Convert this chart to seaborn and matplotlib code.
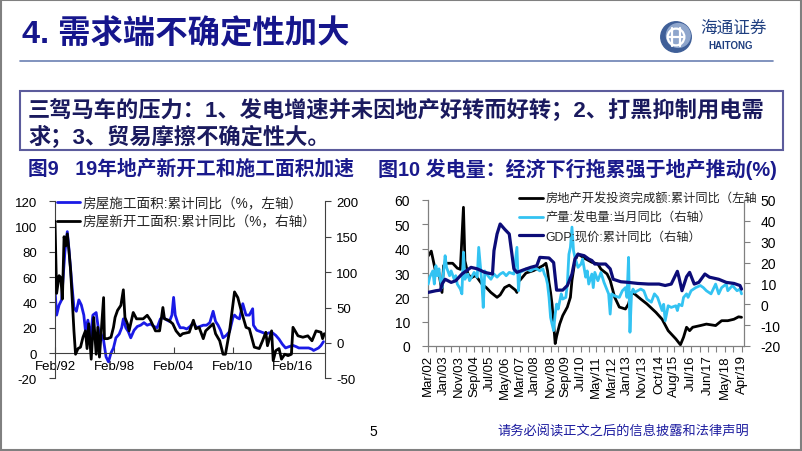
import numpy as np
import pandas as pd
import matplotlib
matplotlib.use('Agg')
import matplotlib.pyplot as plt
import matplotlib.dates as mdates
from matplotlib.patches import Rectangle, Circle
from matplotlib.lines import Line2D
import seaborn as sns

sns.set_theme(style='white')
plt.rcParams['font.family'] = ['Liberation Sans', 'Noto Sans CJK SC', 'DejaVu Sans']
plt.rcParams['axes.unicode_minus'] = False

# ---------------- data: chart 9 ----------------
build_dates = ["1992-02","1992-04","1992-07","1992-10","1993-02","1993-05","1993-07","1993-10",
               "1994-01","1994-04","1994-07","1994-10","1995-01","1995-03","1995-06","1995-09",
               "1995-12","1996-04","1996-07","1996-10","1997-01","1997-04","1997-07","1997-10",
               "1998-01","1998-04","1998-08","1998-11","1999-01","1999-04","1999-07","1999-10",
               "2000-02","2000-06","2000-10","2001-02","2001-06","2001-10","2002-02","2002-06",
               "2002-10","2003-02","2003-06","2003-09","2003-12","2004-02","2004-04","2004-07",
               "2004-10","2005-02","2005-06","2005-10","2006-02","2006-06","2006-10","2007-02",
               "2007-06","2007-10","2008-02","2008-05","2008-08","2008-11","2009-02","2009-06",
               "2009-10","2010-02","2010-04","2010-07","2010-10","2011-02","2011-06","2011-10",
               "2012-02","2012-03","2012-07","2012-11","2013-03","2013-06","2013-10","2014-02",
               "2014-06","2014-10","2015-02","2015-06","2015-10","2016-03","2016-07","2016-10",
               "2017-03","2017-07","2017-10","2018-02","2018-04","2018-07","2018-10","2019-01",
               "2019-04"]
build_yoy = [50, 30, 38, 42, 80, 96, 82, 58,
             36, 33, 42, 38, 30, 18, 26, 12,
             30, 32, 18, 15, 10, -3, -7, 0,
             4, 12, 15, 20, 27, 20, 17, 12,
             18, 21, 22, 24, 22, 23, 21, 20,
             27, 28, 26, 25, 30, 44, 30, 24,
             20, 20, 19, 21, 24, 20, 21, 22,
             22, 24, 33, 25, 22, 18, 12, 14,
             17, 28, 30, 28, 27, 39, 30, 30,
             35, 22, 18, 17, 16, 15, 16, 16,
             14, 11, 7, 4, 5, 6, 5, 4,
             4, 4, 4, 3, 2, 3, 4, 6,
             9]

start_dates = ["1992-02","1992-04","1992-07","1992-09","1992-11","1993-01","1993-03","1993-05",
               "1993-07","1993-09","1993-11","1994-01","1994-03","1994-06","1994-09","1994-12",
               "1995-03","1995-05","1995-07","1995-10","1996-01","1996-04","1996-06","1996-08",
               "1997-01","1997-02","1997-06","1997-10","1998-01","1998-03","1998-06","1998-10",
               "1999-01","1999-03","1999-06","1999-08","2000-01","2000-05","2001-01","2001-06",
               "2001-10","2002-02","2002-04","2002-09","2003-01","2003-03","2003-08","2004-01",
               "2004-05","2004-10","2005-01","2005-09","2006-02","2006-05","2006-09","2007-02",
               "2007-05","2008-02","2008-05","2008-10","2009-02","2009-05","2009-10","2010-04",
               "2010-08","2010-12","2011-06","2011-10","2012-04","2012-10","2013-02","2013-06",
               "2013-08","2014-01","2014-03","2014-06","2014-10","2015-01","2015-05","2015-09",
               "2016-01","2016-03","2016-09","2017-03","2017-09","2018-02","2018-07","2019-01",
               "2019-03","2019-05"]
start_yoy = [172, 70, 95, 92, 62, 150, 137, 154,
             130, 102, 60, 17, -16, -8, -6, 8,
             17, -8, 27, -23, 36, -16, 22, -20,
             64, 6, 6, 8, 22, 36, 46, 53,
             75, 36, 27, 17, 43, 34, 34, 39,
             32, 22, 17, 17, 50, 34, 32, 27,
             17, 10, 13, 15, 32, 20, 22, 6,
             17, 27, 13, 3, -16, -16, 17, 72,
             64, 46, 22, 20, -6, -8, 3, 15,
             -4, 17, -25, -11, -8, -23, -16, -18,
             -16, 22, 10, 8, 10, 3, 17, 15,
             6, 13]

fig9_ticks = ["1992-02", "1998-02", "2004-02", "2010-02", "2016-02"]
fig9_ticklabels = ["Feb/92", "Feb/98", "Feb/04", "Feb/10", "Feb/16"]

# ---------------- data: chart 10 ----------------
inv_dates = ["2002-03","2002-05","2002-06","2002-08","2002-10","2002-12","2003-01","2003-03",
             "2003-07","2003-10","2003-12","2004-02","2004-03","2004-05","2004-07","2004-10",
             "2005-02","2005-05","2005-08","2005-12","2006-02","2006-05","2006-08","2006-12",
             "2007-01",
             "2007-03","2007-07","2007-12","2008-03","2008-06","2008-08","2008-09","2008-10",
             "2008-11","2008-12","2009-01","2009-02","2009-03","2009-05","2009-07","2009-10",
             "2009-12","2010-01","2010-03","2010-05","2010-07","2010-10","2011-02","2011-06",
             "2011-08","2011-12","2012-02","2012-05","2012-08","2012-12","2013-02","2013-04",
             "2013-06","2013-10","2014-02","2014-08","2014-12","2015-04","2015-09","2015-12",
             "2016-02","2016-04","2016-06","2016-08","2017-01","2017-05","2017-11","2018-03",
             "2018-07","2018-11","2019-02","2019-04"]
inv_yoy = [37, 39, 36, 30, 30, 22, 33, 34,
           34, 32, 31.5, 57, 35, 29.6, 28, 29,
           25.5, 24, 22, 20, 21, 24, 25, 23,
           22,
           27, 30, 31, 32, 33, 34, 31, 26,
           22, 17, 9, 1, 4, 9, 12.5, 16,
           20, 27, 35, 37.8, 37, 35.8, 34.4, 33.7,
           31.6, 29.6, 27, 20, 16, 15.2, 17.3, 22,
           21.4, 19.3, 17.3, 13.8, 11, 6.3, 2.9, 0.5,
           3.6, 7.7, 6.3, 7.7, 8.4, 9, 8.4, 10.4,
           10.4, 11, 12, 11.8]
inv_segment = [0] * 25 + [1] * 52

power_dates = ["2002-03","2002-04","2002-06","2002-07","2002-08","2002-09","2002-10","2002-11",
               "2002-12","2003-02","2003-03","2003-05","2003-06","2003-08","2003-09","2003-10",
               "2003-12","2004-01","2004-02","2004-03","2004-05","2004-06","2004-09","2004-11",
               "2004-12","2005-02","2005-03","2005-04","2005-06","2005-08","2005-10","2005-12",
               "2006-02","2006-04","2006-06","2006-08","2006-11","2007-01","2007-02","2007-03",
               "2007-05","2007-07","2007-10","2007-12","2008-02","2008-04","2008-06","2008-07",
               "2008-08","2008-09","2008-10","2008-11","2008-12","2009-01","2009-02","2009-03",
               "2009-04","2009-06","2009-07","2009-09","2009-10","2009-11","2009-12","2010-01",
               "2010-02","2010-03","2010-05","2010-07","2010-08","2010-10","2010-11","2010-12",
               "2011-02","2011-03","2011-04","2011-06","2011-08","2011-10","2012-01","2012-02",
               "2012-03","2012-05","2012-08","2012-10","2012-12","2013-01","2013-02","2013-03",
               "2013-04","2013-05","2013-06","2013-08","2013-10","2013-12","2014-02","2014-05",
               "2014-07","2014-09","2014-12","2015-01","2015-02","2015-04","2015-06","2015-09",
               "2015-10","2015-11","2016-01","2016-02","2016-04","2016-05","2016-07","2016-10",
               "2017-01","2017-03","2017-05","2017-08","2017-11","2018-01","2018-03","2018-06",
               "2018-07","2018-10","2019-01","2019-03","2019-04"]
power_yoy = [9.7, 13, 16, 9.7, 18.5, 13.7, 17, 11,
             8, 23.3, 17.7, 13.7, 16, 12, 13.7, 9.7,
             7.3, 5, 25, 12, 14.5, 11.3, 15.3, 13,
             27.3, 10.5, -1.5, 16, 13.7, 12, 14.5, 13,
             14.5, 15.3, 13.7, 15.3, 14.5, 27.3, 6.5, 15.3,
             16, 17, 16, 17, 17, 16, 17, 14.5,
             13, 9.7, 3.3, -6.3, -9.5, -12.6, -4.7, 0.1,
             -2.3, 5, 2.5, 3.3, 9.7, 24, 27.3, 37,
             25.7, 22.5, 17.7, 19.3, 21.7, 13, 16, 9.7,
             14.5, 8, 15.3, 11.3, 15.3, 10.5, 5, -4.7,
             5, 4, 3.3, 6.5, 8, 3.3, 22.5, -13.4,
             5, 7.3, 5.7, 6.5, 7.3, 6.5, 2.5, 1,
             5, 3.3, -3, 0, -7.9, -0.7, -1.5, -0.7,
             -3, 0, -0.7, 3.3, 5, 3.3, 6.5, 8,
             9, 8, 6.5, 5, 9.7, 5, 8, 9.7,
             6.5, 9, 6.5, 7.3, 5]

gdp_dates = ["2002-03","2002-08","2002-11","2002-12","2003-02","2003-06","2003-09","2004-01",
             "2004-07","2004-11","2005-04","2005-09","2005-10","2005-12","2006-02","2006-05",
             "2006-08","2006-11","2007-01","2007-05","2007-10","2008-02","2008-04","2008-10",
             "2009-01","2009-02","2009-03","2009-07","2009-10","2010-01","2010-03","2010-05",
             "2010-09","2010-12","2011-02","2011-04","2011-11","2012-02","2012-04","2012-09",
             "2013-02","2013-08","2014-03","2014-10","2015-02","2015-06","2015-10","2015-11",
             "2016-01","2016-04","2016-06","2016-09","2016-12","2017-04","2017-07","2018-01",
             "2018-06","2018-11","2019-03","2019-04"]
gdp_yoy = [5.7, 6.5, 6.8, 9.7, 12, 10.5, 11.3, 14.5,
           17.7, 17, 15.3, 14.5, 25.7, 33.7, 38.5, 36,
           33.7, 17, 15.3, 16.4, 17.7, 18.5, 22.5, 22.2,
           20, 13, 6.8, 6.8, 9, 14.5, 21.7, 24,
           23.3, 21.7, 21, 19.3, 19.3, 17, 12, 10.8,
           10.5, 10, 9.7, 9.7, 9, 9.7, 15.8, 13,
           6.5, 13.2, 15.3, 9.7, 10.5, 14.5, 13, 12,
           10.5, 10, 9, 7.3]

fig10_ticks = ["2002-03","2003-01","2003-11","2004-09","2005-07","2006-05","2007-03","2008-01",
               "2008-11","2009-09","2010-07","2011-05","2012-03","2013-01","2013-11","2014-10",
               "2015-08","2016-07","2017-06","2018-05","2019-04"]
fig10_ticklabels = ["Mar/02","Jan/03","Nov/03","Sep/04","Jul/05","May/06","Mar/07","Jan/08",
                    "Nov/08","Sep/09","Jul/10","May/11","Mar/12","Jan/13","Nov/13","Oct/14",
                    "Aug/15","Jul/16","Jun/17","May/18","Apr/19"]

# ---------------- figure ----------------
W, H = 802, 452
fig = plt.figure(figsize=(W / 100, H / 100), dpi=100)
fig.patch.set_facecolor('white')

def fx(px):
    return px / W

def fy(py):
    return 1 - py / H

def frame(dates, values, **extra):
    d = pd.DataFrame({'date': pd.to_datetime(dates), 'value': values})
    for k, v in extra.items():
        d[k] = v
    return d

# slide border
fig.patches.append(Rectangle((0.0015, 0.003), 0.997, 0.994, transform=fig.transFigure,
                             fill=False, edgecolor='#808080', lw=1.5))

# header
fig.text(fx(22), fy(35), "4. 需求端不确定性加大", fontsize=23.3, fontweight='bold',
         color='#16168c', va='center', ha='left')
fig.add_artist(Line2D([fx(20), fx(773)], [fy(61.5), fy(61.5)], transform=fig.transFigure,
                      color='#6b80b3', lw=1.2))

# logo
lax = fig.add_axes([fx(660), fy(54), 32 / W, 32 / H])
lax.set_xlim(-1.05, 1.05); lax.set_ylim(-1.05, 1.05); lax.set_aspect('equal'); lax.axis('off')
lax.add_patch(Circle((0, 0), 1.0, color='#3f5f98'))
lax.add_patch(Circle((0.15, 0.1), 0.78, color='#8fa6cc'))
lax.add_patch(Circle((0, 0), 0.55, fill=False, ec='white', lw=1.6))
lax.plot([-0.25, -0.25], [-0.6, 0.6], color='white', lw=1.6)
lax.plot([0.25, 0.25], [-0.6, 0.6], color='white', lw=1.6)
lax.plot([-0.55, 0.55], [0, 0], color='white', lw=1.6)
fig.text(fx(734), fy(28), "海通证券", fontsize=12, color='#1f3f80', ha='center', va='center',
         fontstyle='italic')
fig.text(fx(731), fy(46), "HAITONG", fontsize=7, fontweight='bold', color='#1f3f80',
         ha='center', va='center')

# message box
fig.patches.append(Rectangle((fx(20), fy(150.5)), (783 - 20) / W, 59 / H,
                             transform=fig.transFigure, fill=False, edgecolor='#5c5c9c', lw=1.5))
box_color = '#1a1a5e'
fig.text(fx(28), fy(110), "三驾马车的压力：1、发电增速并未因地产好转而好转；2、打黑抑制用电需",
         fontsize=16, fontweight='bold', color=box_color, va='center', ha='left')
fig.text(fx(28), fy(137), "求；3、贸易摩擦不确定性大。",
         fontsize=16, fontweight='bold', color=box_color, va='center', ha='left')

# sub titles
sub_color = '#1a1a8c'
fig.text(fx(28), fy(169), "图9   19年地产新开工和施工面积加速", fontsize=14.2, fontweight='bold',
         color=sub_color, va='center', ha='left')
fig.text(fx(378), fy(169), "图10 发电量：经济下行拖累强于地产推动(%)", fontsize=14.4,
         fontweight='bold', color=sub_color, va='center', ha='left')

# footer
fig.text(fx(373), fy(432), "5", fontsize=10, color='black', ha='center', va='center')
fig.text(fx(497), fy(432), "请务必阅读正文之后的信息披露和法律声明", fontsize=9.5,
         color='#1c1ca0', ha='left', va='center')

# ---------------- chart 9 ----------------
spine_c = '#404040'
ax1 = fig.add_axes([fx(55), fy(379.3), 270 / W, 177 / H])
ax1b = ax1.twinx()
sns.lineplot(data=frame(build_dates, build_yoy), x='date', y='value', ax=ax1,
             color='#1a1ae6', linewidth=2.0, estimator=None, errorbar=None)
sns.lineplot(data=frame(start_dates, start_yoy), x='date', y='value', ax=ax1b,
             color='black', linewidth=2.0, estimator=None, errorbar=None)
ax1.set_ylim(-20, 120)
ax1b.set_ylim(-50, 200)
ax1.set_yticks(np.arange(-20, 121, 20))
ax1b.set_yticks(np.arange(-50, 201, 50))
x0 = mdates.date2num(pd.Timestamp("1992-02-01"))
x1 = mdates.date2num(pd.Timestamp("2019-05-28"))
ax1.set_xlim(x0, x1)
ax1.set_xticks(mdates.date2num(pd.to_datetime(fig9_ticks)))
ax1.set_xticklabels(fig9_ticklabels)
for a in (ax1, ax1b):
    a.set_xlabel(''); a.set_ylabel('')
    a.patch.set_alpha(0)
ax1.spines['top'].set_visible(False)
ax1.spines['right'].set_visible(False)
ax1.spines['bottom'].set_position(('data', 0))
for s in ('left', 'bottom'):
    ax1.spines[s].set_color(spine_c); ax1.spines[s].set_linewidth(0.8)
for s in ('top', 'bottom', 'left'):
    ax1b.spines[s].set_visible(False)
ax1b.spines['right'].set_color(spine_c); ax1b.spines['right'].set_linewidth(0.8)
ax1.tick_params(axis='y', left=True, direction='out', length=4, width=0.8, color=spine_c,
                pad=9, labelsize=9.5, labelcolor='black')
ax1b.tick_params(axis='y', right=True, direction='out', length=4, width=0.8, color=spine_c,
                 pad=4, labelsize=9.5, labelcolor='black')
ax1.tick_params(axis='x', bottom=True, direction='in', length=4, width=0.8, color=spine_c,
                pad=5, labelsize=9.5, labelcolor='black')
h9 = [Line2D([], [], color='#1a1ae6', lw=2.0), Line2D([], [], color='black', lw=2.0)]
l9 = ["房屋施工面积:累计同比（%，左轴）", "房屋新开工面积:累计同比（%，右轴）"]
ax1b.legend(h9, l9, loc='upper left', bbox_to_anchor=(fx(57), fy(197)),
            bbox_transform=fig.transFigure, frameon=False, fontsize=9.8, handlelength=1.7,
            handletextpad=0.2, labelspacing=0.35, borderpad=0, borderaxespad=0)

# ---------------- chart 10 ----------------
spine_c2 = '#808080'
ax2 = fig.add_axes([fx(428), fy(347), 316 / W, 146 / H])
ax2b = ax2.twinx()
sns.lineplot(data=frame(inv_dates, inv_yoy, seg=inv_segment), x='date', y='value', units='seg',
             ax=ax2, color='black', linewidth=2.0, estimator=None, errorbar=None)
sns.lineplot(data=frame(power_dates, power_yoy), x='date', y='value', ax=ax2b,
             color='#33c3f2', linewidth=2.0, estimator=None, errorbar=None)
sns.lineplot(data=frame(gdp_dates, gdp_yoy), x='date', y='value', ax=ax2b,
             color='#0c0c78', linewidth=2.3, estimator=None, errorbar=None)
ax2.set_ylim(0, 60)
ax2b.set_ylim(-20, 50)
ax2.set_yticks(np.arange(0, 61, 10))
ax2b.set_yticks(np.arange(-20, 51, 10))
tick_dates = pd.to_datetime(fig10_ticks)
tnum = mdates.date2num(tick_dates)
ax2.set_xlim(mdates.date2num(pd.Timestamp("2002-02-25")), mdates.date2num(pd.Timestamp("2019-05-20")))
ax2.set_xticks(tnum)
ax2.set_xticklabels(fig10_ticklabels, rotation=90)
ax2.set_xticks((tnum[:-1] + tnum[1:]) / 2, minor=True)
for a in (ax2, ax2b):
    a.set_xlabel(''); a.set_ylabel('')
    a.patch.set_alpha(0)
ax2.spines['top'].set_visible(False)
ax2.spines['right'].set_visible(False)
for s in ('left', 'bottom'):
    ax2.spines[s].set_color(spine_c2); ax2.spines[s].set_linewidth(0.9)
for s in ('top', 'bottom', 'left'):
    ax2b.spines[s].set_visible(False)
ax2b.spines['right'].set_color(spine_c2); ax2b.spines['right'].set_linewidth(0.9)
ax2.tick_params(axis='y', left=True, direction='out', length=4, width=0.8, color=spine_c2,
                pad=9, labelsize=10, labelcolor='black')
ax2b.tick_params(axis='y', right=True, direction='out', length=4, width=0.8, color=spine_c2,
                 pad=8, labelsize=10, labelcolor='black')
ax2.tick_params(axis='x', which='both', bottom=True, direction='out', length=4, width=0.8,
                color=spine_c2, pad=2, labelsize=9.5, labelcolor='black')
h10 = [Line2D([], [], color='black', lw=2.0), Line2D([], [], color='#33c3f2', lw=2.0),
       Line2D([], [], color='#0c0c78', lw=2.3)]
l10 = ["房地产开发投资完成额:累计同比（左轴", "产量:发电量:当月同比（右轴）", "GDP:现价:累计同比（右轴）"]
ax2b.legend(h10, l10, loc='upper left', bbox_to_anchor=(fx(519), fy(194)),
            bbox_transform=fig.transFigure, frameon=False, fontsize=8.8, handlelength=2.0,
            handletextpad=0.15, labelspacing=0.55, borderpad=0, borderaxespad=0)

fig.savefig('out.png', dpi=100, facecolor='white')
